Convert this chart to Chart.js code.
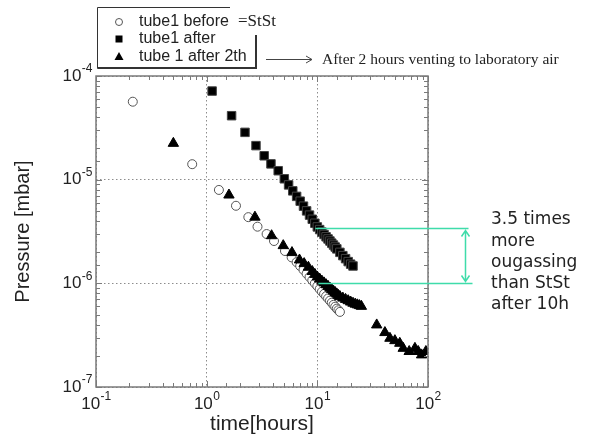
<!DOCTYPE html>
<html>
<head>
<meta charset="utf-8">
<script src="https://cdn.jsdelivr.net/npm/chart.js@4.4.1/dist/chart.umd.min.js"></script>
<style>
  body { margin: 0; background: #fff; }
  #wrap { width: 590px; height: 438px; }
</style>
</head>
<body>
<div id="wrap"><canvas id="canvas" width="590" height="438"></canvas></div>
<script>
// tube1 before (=StSt), open circles
const beforeTime = [0.215, 0.74, 1.29, 1.84, 2.38, 2.88, 3.48, 4.06, 5.1, 5.86, 6.5, 7.0, 7.5, 8.0, 8.5, 9.0, 9.5, 10.0,
  10.5, 11.0, 11.5, 12.0, 12.5, 13.0, 13.5, 14.0, 14.5, 15.0, 15.5, 16.0];
const beforeP = [5.65e-5, 1.41e-5, 7.96e-6, 5.6e-6, 4.35e-6, 3.52e-6, 2.99e-6, 2.56e-6, 2.05e-6, 1.78e-6, 1.6e-6, 1.47e-6, 1.35e-6, 1.24e-6, 1.15e-6, 1.07e-6, 1.0e-6, 9.4e-7,
  8.8e-7, 8.3e-7, 7.9e-7, 7.5e-7, 7.15e-7, 6.8e-7, 6.5e-7, 6.2e-7, 5.95e-7, 5.7e-7, 5.5e-7, 5.3e-7];

// tube1 after, filled squares
const afterTime = [1.12, 1.68, 2.22, 2.79, 3.31, 3.81, 4.43, 5.03, 5.5, 6.0, 6.5, 7.0, 7.5, 8.0, 8.5, 9.0, 9.5, 10.0,
  10.5, 11.0, 11.5, 12.0, 12.5, 13.0, 13.5, 14.0, 14.5, 15.0, 16, 17, 18, 19, 20, 21];
const afterP = [7.16e-5, 4.14e-5, 2.86e-5, 2.13e-5, 1.7e-5, 1.42e-5, 1.22e-5, 1.02e-5, 8.9e-6, 7.8e-6, 6.9e-6, 6.2e-6, 5.55e-6, 5.0e-6, 4.55e-6, 4.15e-6, 3.8e-6, 3.5e-6,
  3.3e-6, 3.12e-6, 2.96e-6, 2.81e-6, 2.68e-6, 2.56e-6, 2.44e-6, 2.34e-6, 2.24e-6, 2.15e-6, 1.99e-6, 1.85e-6, 1.73e-6, 1.62e-6, 1.53e-6, 1.47e-6];

// tube 1 after 2th, filled triangles
const after2Time = [0.5, 1.59, 2.73, 3.86, 4.92, 5.9, 6.9, 7.6, 8.3, 9.0, 9.5, 10.0, 10.5, 11.0, 11.5, 12.0, 12.5, 13.0, 13.5, 14.0,
  14.5, 15.0, 15.5, 16.0, 17, 18, 19, 20, 21, 22, 23, 24, 25,
  34.4, 40.8, 45.3, 50.2, 55.6, 59.7, 67.6, 76.2, 81.6, 87.5, 95.7];
const after2P = [2.24e-5, 7.11e-6, 4.35e-6, 2.88e-6, 2.31e-6, 1.98e-6, 1.68e-6, 1.55e-6, 1.43e-6, 1.3e-6, 1.22e-6, 1.15e-6, 1.1e-6, 1.05e-6, 1.01e-6, 9.7e-7, 9.35e-7, 9.0e-7, 8.7e-7, 8.4e-7,
  8.15e-7, 7.9e-7, 7.65e-7, 7.45e-7, 7.2e-7, 7.0e-7, 6.8e-7, 6.6e-7, 6.43e-7, 6.3e-7, 6.2e-7, 6.1e-7, 6.0e-7,
  3.97e-7, 3.35e-7, 2.95e-7, 2.8e-7, 2.64e-7, 2.36e-7, 2.2e-7, 2.36e-7, 2.2e-7, 2.04e-7, 2.2e-7];

const xTickValues = [0.1, 1, 10, 100];
const yTickValues = [1e-7, 1e-6, 1e-5, 1e-4];
const legendLabels = ['tube1 before', 'tube1 after', 'tube 1 after 2th'];
const stStNote = '=StSt';
const ventNote = 'After 2 hours venting to laboratory air';
const noteLines = ['3.5 times', 'more', 'ougassing', 'than StSt', 'after 10h'];
// ratio marker: squares vs StSt at 10 h
const ratioTime = 10;
const ratioTop = 3.42e-6;
const ratioBottom = 1e-6;

const green = '#3fdcaa';
const sans = '"Liberation Sans", Arial, sans-serif';
const serif = '"Liberation Serif", "Times New Roman", serif';

const toPoints = (xs, ys) => xs.map((t, i) => ({ x: t, y: ys[i] }));
const isMajor = (v) => Math.abs(Math.log10(v) - Math.round(Math.log10(v))) < 1e-6;

function drawPow(ctx, exp, x, y, align) {
  ctx.font = '17px ' + sans;
  const wb = ctx.measureText('10').width;
  ctx.font = '12px ' + sans;
  const we = ctx.measureText(exp).width;
  let x0 = x;
  if (align === 'right') x0 = x - wb - we;
  if (align === 'center') x0 = x - (wb + we) / 2;
  ctx.textAlign = 'left';
  ctx.textBaseline = 'middle';
  ctx.font = '17px ' + sans;
  ctx.fillText('10', x0, y);
  ctx.font = '12px ' + sans;
  ctx.fillText(exp, x0 + wb + 0.5, y - 7);
}

const decor = {
  id: 'decor',
  afterDatasetsDraw(chart) {
    const { ctx, chartArea: a, scales: { x, y } } = chart;
    ctx.save();

    // frame and inward ticks
    ctx.strokeStyle = '#7a7a7a';
    ctx.lineWidth = 1.5;
    ctx.strokeRect(a.left, a.top, a.right - a.left, a.bottom - a.top);
    ctx.lineWidth = 1;
    ctx.beginPath();
    x.ticks.forEach((t) => {
      const px = Math.round(x.getPixelForValue(t.value)) + 0.5;
      const len = isMajor(t.value) ? 6 : 4;
      ctx.moveTo(px, a.bottom); ctx.lineTo(px, a.bottom - len);
      ctx.moveTo(px, a.top); ctx.lineTo(px, a.top + len);
    });
    y.ticks.forEach((t) => {
      const py = Math.round(y.getPixelForValue(t.value)) + 0.5;
      const len = isMajor(t.value) ? 6 : 4;
      ctx.moveTo(a.left, py); ctx.lineTo(a.left + len, py);
      ctx.moveTo(a.right, py); ctx.lineTo(a.right - len, py);
    });
    ctx.stroke();

    // tick labels 10^n
    ctx.fillStyle = '#222';
    xTickValues.forEach((v) => {
      drawPow(ctx, String(Math.round(Math.log10(v))), x.getPixelForValue(v), 404, 'center');
    });
    yTickValues.forEach((v) => {
      drawPow(ctx, String(Math.round(Math.log10(v))), 92, y.getPixelForValue(v), 'right');
    });

    // legend box
    ctx.strokeStyle = '#333';
    ctx.lineWidth = 1;
    ctx.beginPath();
    ctx.moveTo(230, 7.5); ctx.lineTo(97.5, 7.5); ctx.lineTo(97.5, 68.5);
    ctx.stroke();
    ctx.lineWidth = 2;
    ctx.beginPath();
    ctx.moveTo(97.5, 68); ctx.lineTo(256, 68); ctx.lineTo(256, 35);
    ctx.stroke();

    const ly = [22, 39, 57];
    // circle
    ctx.lineWidth = 1;
    ctx.strokeStyle = '#555';
    ctx.fillStyle = '#fff';
    ctx.beginPath(); ctx.arc(119, ly[0], 3.5, 0, Math.PI * 2); ctx.fill(); ctx.stroke();
    // square
    ctx.fillStyle = '#000';
    ctx.fillRect(115.5, ly[1] - 3.5, 7, 7);
    // triangle
    ctx.beginPath();
    ctx.moveTo(119, ly[2] - 5); ctx.lineTo(123.5, ly[2] + 3); ctx.lineTo(114.5, ly[2] + 3); ctx.closePath();
    ctx.fill();

    ctx.fillStyle = '#222';
    ctx.font = '16px ' + sans;
    ctx.textAlign = 'left';
    ctx.textBaseline = 'middle';
    legendLabels.forEach((s, i) => ctx.fillText(s, 139, ly[i]));
    ctx.font = '17px ' + serif;
    ctx.fillText(stStNote, 238, ly[0]);

    // vent note with arrow
    ctx.strokeStyle = '#444';
    ctx.lineWidth = 1;
    ctx.beginPath();
    ctx.moveTo(266, 59.5); ctx.lineTo(312, 59.5);
    ctx.moveTo(306, 56); ctx.lineTo(312, 59.5); ctx.lineTo(306, 63);
    ctx.stroke();
    ctx.fillStyle = '#222';
    ctx.font = '15.5px ' + serif;
    ctx.fillText(ventNote, 322, 60);

    // ratio annotation
    const yTop = Math.round(y.getPixelForValue(ratioTop)) + 0.5;
    const yBot = Math.round(y.getPixelForValue(ratioBottom)) + 0.5;
    const x0 = x.getPixelForValue(ratioTime) - 2;
    const ax = 465.5;
    ctx.strokeStyle = green;
    ctx.lineWidth = 1.5;
    ctx.beginPath();
    ctx.moveTo(x0, yTop); ctx.lineTo(ax + 3, yTop);
    ctx.moveTo(x0 + 3, yBot); ctx.lineTo(ax + 7, yBot);
    ctx.moveTo(ax, yTop + 2); ctx.lineTo(ax, yBot - 2);
    ctx.moveTo(ax - 4, yTop + 8); ctx.lineTo(ax, yTop + 2); ctx.lineTo(ax + 4, yTop + 8);
    ctx.moveTo(ax - 4, yBot - 8); ctx.lineTo(ax, yBot - 2); ctx.lineTo(ax + 4, yBot - 8);
    ctx.stroke();

    ctx.fillStyle = '#222';
    ctx.font = '17px "DejaVu Sans", Verdana, sans-serif';
    noteLines.forEach((s, i) => ctx.fillText(s, 491, 220 + i * 21.2));

    ctx.restore();
  }
};

const gridColor = (c) => (c.tick && isMajor(c.tick.value) ? '#8c8c8c' : 'rgba(0,0,0,0)');

const config = {
  type: 'scatter',
  data: {
    datasets: [
      {
        label: legendLabels[2],
        data: toPoints(after2Time, after2P),
        pointStyle: 'triangle',
        pointRadius: 6,
        backgroundColor: '#000',
        borderColor: '#000',
        borderWidth: 1,
        order: 0,
      },
      {
        label: legendLabels[1],
        data: toPoints(afterTime, afterP),
        pointStyle: 'rect',
        pointRadius: 6,
        backgroundColor: '#000',
        borderColor: '#444',
        borderWidth: 1,
        order: 1,
      },
      {
        label: legendLabels[0],
        data: toPoints(beforeTime, beforeP),
        pointStyle: 'circle',
        pointRadius: 4.5,
        backgroundColor: '#fff',
        borderColor: '#555',
        borderWidth: 1,
        order: 2,
      },
    ],
  },
  options: {
    responsive: false,
    animation: false,
    events: [],
    layout: { padding: { top: 76, right: 162, left: 0, bottom: 0 } },
    plugins: { legend: { display: false }, tooltip: { enabled: false } },
    scales: {
      x: {
        type: 'logarithmic',
        min: 0.1,
        max: 100,
        afterFit: (s) => { s.height = 51; },
        ticks: { display: false },
        grid: { color: gridColor, drawTicks: false, lineWidth: 1 },
        border: { display: false, dash: [1.5, 2.5] },
        title: {
          display: true,
          text: 'time[hours]',
          color: '#222',
          font: { family: sans, size: 21 },
          padding: { top: 0, bottom: 1 },
        },
      },
      y: {
        type: 'logarithmic',
        min: 1e-7,
        max: 1e-4,
        afterFit: (s) => { s.width = 96; },
        ticks: { display: false },
        grid: { color: gridColor, drawTicks: false, lineWidth: 1 },
        border: { display: false, dash: [1.5, 2.5] },
        title: {
          display: true,
          text: 'Pressure [mbar]',
          color: '#222',
          font: { family: sans, size: 20 },
          padding: { top: 11, bottom: 0 },
        },
      },
    },
  },
  plugins: [decor],
};

const ctx = document.getElementById('canvas').getContext('2d');
window.myChart = new Chart(ctx, config);
</script>
</body>
</html>
